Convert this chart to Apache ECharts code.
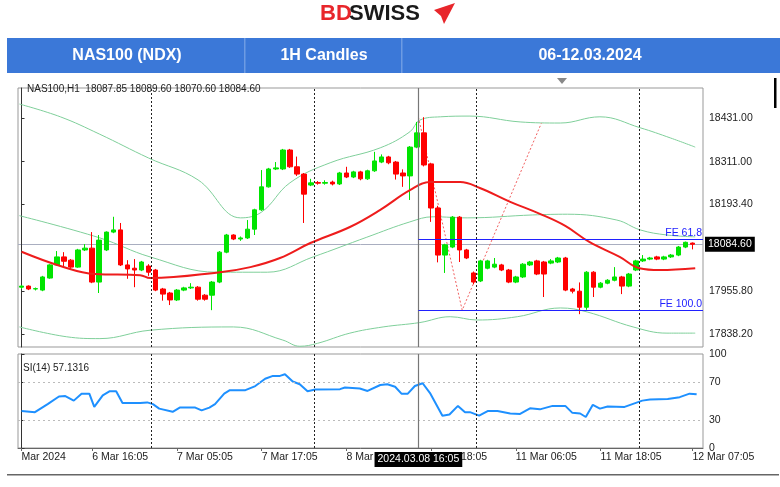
<!DOCTYPE html>
<html>
<head>
<meta charset="utf-8">
<script src="https://cdn.jsdelivr.net/npm/echarts@6/dist/echarts.min.js"></script>
<style>
  html, body { margin: 0; padding: 0; background: #fff; }
  #chart { width: 780px; height: 487px; }
</style>
</head>
<body>
<div id="chart"></div>
<script>
// Velas H1 NAS100: [open, close, low, high]
const velas = [
  [17967, 17970, 17962, 17973], [17970, 17962, 17959, 17972], [17962, 17963, 17958, 17966], [17959, 17995, 17956, 17998],
  [17992, 18028, 17990, 18030], [18028, 18050, 18026, 18066], [18050, 18038, 18025, 18063], [18041, 18022, 18014, 18044],
  [18022, 18069, 18020, 18072], [18069, 18074, 18066, 18085], [18074, 17981, 17978, 18118], [17981, 18096, 17951, 18110],
  [18069, 18118, 18066, 18120], [18118, 18124, 18115, 18160], [18124, 18028, 18025, 18143], [18028, 18017, 17990, 18041],
  [18019, 18014, 17967, 18044], [18014, 18036, 18011, 18039], [18025, 18008, 17998, 18030], [18014, 17959, 17956, 18017],
  [17962, 17948, 17930, 17965], [17951, 17932, 17918, 17954], [17932, 17959, 17929, 17962], [17959, 17965, 17956, 17968],
  [17965, 17967, 17962, 17978], [17967, 17934, 17930, 17970], [17945, 17934, 17930, 17948], [17945, 17981, 17904, 17984],
  [17981, 18063, 17978, 18066], [18063, 18110, 18060, 18113], [18110, 18099, 18096, 18112], [18099, 18102, 18094, 18106],
  [18102, 18126, 18099, 18151], [18126, 18179, 18110, 18182], [18179, 18242, 18176, 18288], [18242, 18291, 18240, 18294],
  [18291, 18294, 18288, 18310], [18291, 18343, 18288, 18346], [18343, 18297, 18294, 18346], [18297, 18277, 18272, 18325],
  [18277, 18222, 18143, 18280], [18247, 18253, 18244, 18264], [18254, 18252, 18248, 18258], [18252, 18254, 18248, 18260],
  [18255, 18250, 18246, 18259], [18250, 18280, 18247, 18283], [18280, 18269, 18266, 18297], [18269, 18283, 18266, 18286],
  [18283, 18264, 18260, 18286], [18264, 18286, 18261, 18289], [18286, 18313, 18283, 18338], [18310, 18324, 18307, 18331],
  [18324, 18308, 18304, 18327], [18310, 18277, 18262, 18313], [18280, 18272, 18242, 18290], [18272, 18351, 18206, 18354],
  [18351, 18390, 18348, 18420], [18390, 18302, 18298, 18433], [18305, 18184, 18146, 18308], [18184, 18055, 18035, 18190],
  [18055, 18083, 18006, 18086], [18077, 18159, 18074, 18162], [18159, 18069, 18036, 18162], [18069, 18047, 18044, 18072],
  [18006, 17981, 17975, 18010], [17984, 18039, 17981, 18042], [18019, 18039, 18016, 18042], [18022, 18030, 18019, 18047],
  [18028, 18014, 18011, 18031], [18014, 17981, 17978, 18017], [17981, 17995, 17978, 17998], [17995, 18030, 17992, 18033],
  [18028, 18036, 18025, 18039], [18039, 18003, 18000, 18042], [18036, 18003, 17940, 18039], [18033, 18039, 18030, 18044],
  [18036, 18047, 18033, 18050], [18047, 17959, 17956, 18050], [17962, 17956, 17950, 17965], [17956, 17912, 17893, 17980],
  [17912, 18008, 17905, 18011], [18008, 17967, 17940, 18011], [17967, 17978, 17964, 17981], [17978, 17986, 17975, 17989],
  [17986, 17995, 17983, 18022], [17995, 17970, 17948, 17998], [17970, 18003, 17967, 18006], [18014, 18039, 18011, 18042],
  [18039, 18044, 18036, 18055], [18044, 18047, 18041, 18050], [18050, 18044, 18041, 18053], [18044, 18050, 18041, 18053],
  [18050, 18055, 18047, 18058], [18055, 18077, 18052, 18080], [18077, 18090, 18074, 18092], [18087.85, 18084.6, 18070.6, 18089.6]
];
const categorias = velas.map(function(v, i) { return i; }).concat([96]);

// Media móvil (roja) [índice, precio]
const mediaMovil = [[0, 18064], [5.5, 18025], [10.4, 18003], [16.8, 18000], [18.2, 17992], [28.1, 18008], [32.4, 18022],
  [36.6, 18047], [40.9, 18088], [46.5, 18132], [50.8, 18179], [55, 18233], [57.9, 18255], [62.1, 18255], [64.9, 18239],
  [69.2, 18201], [73.4, 18168], [77, 18135], [80.4, 18091], [84.7, 18050], [87.5, 18019], [90.4, 18014], [95.4, 18019]];

// Bandas (verdes)
const bandaSup = [[-0.3, 18469], [5.5, 18434], [11, 18387], [18, 18321], [25, 18261], [31, 18157], [34, 18173], [38, 18253],
  [43.7, 18308], [50.8, 18349], [55, 18393], [56.4, 18425], [59.3, 18434], [63.5, 18436], [70.6, 18420], [76.3, 18417],
  [81.9, 18434], [87.6, 18404], [91.9, 18376], [95.4, 18351]];
const bandaMed = [[-0.3, 18163], [11.1, 18102], [18.2, 18050], [27.7, 18008], [34.8, 18008], [41.3, 18050], [48.9, 18104],
  [55, 18146], [58.3, 18160], [63.1, 18157], [72.4, 18165], [77.3, 18167], [84.3, 18151], [87.6, 18124], [91.4, 18110], [95.4, 18105]];
const bandaInf = [[-0.3, 17858], [6.4, 17831], [11.1, 17826], [18.2, 17849], [30, 17858], [37, 17822], [39.4, 17805],
  [41.9, 17813], [46.5, 17841], [51.2, 17858], [56.4, 17870], [60.7, 17886], [64.5, 17877], [70.2, 17886], [76.3, 17910],
  [80.1, 17899], [86.6, 17858], [91.4, 17841], [95.4, 17841]];

// Fibonacci
const fiboPuntos = [[56.2, 18433], [62.4, 17904], [73.6, 18416]];
const fe618 = 18098;
const fe100 = 17904;
const precioActual = 18084.6;

// RSI(14)
const rsi = [[0, 39.3], [1.9, 38.1], [3.7, 46.7], [5.3, 54.8], [6.2, 55.2], [7.4, 50.4], [8.5, 57.8], [9.6, 57.8], [10.3, 43.7],
  [11.5, 55.9], [12.5, 60.4], [13.4, 60.4], [14.3, 47.8], [16.8, 47.8], [17.8, 48.5], [18.6, 46.7], [19.5, 41.9], [21.4, 38.5],
  [22.4, 43], [24.6, 43], [25.5, 40], [26.6, 43], [27.4, 46.7], [28.7, 57.8], [29.5, 61.5], [31.7, 61.5], [33.1, 65.9],
  [34.5, 73.7], [35.6, 76.7], [36.6, 76.7], [37.3, 78.5], [38.4, 70.7], [39.4, 67.8], [40.5, 60.4], [41.6, 62.2], [45.1, 62.6],
  [45.8, 64.4], [47.9, 63.3], [49, 60.7], [50.8, 67], [51.8, 67.8], [52.9, 65.2], [53.8, 57.8], [54.7, 57.8], [55.7, 65.9],
  [56.8, 68.9], [57.9, 57.8], [59.6, 34.4], [60.6, 35.6], [61.8, 44.8], [62.8, 38.1], [63.5, 38.1], [64.8, 34.4], [66, 39.3],
  [67.4, 39.3], [69.2, 36.7], [70.6, 36.3], [72, 42.2], [73.4, 41.1], [75.2, 44.8], [77, 44.8], [78, 37.4], [79.1, 36.7],
  [79.9, 33], [80.9, 45.9], [81.9, 41.9], [83, 44.1], [85.4, 43.7], [87.9, 50.4], [89, 51.5], [91.5, 52.2], [93.2, 54.1],
  [94.6, 57.8], [95.6, 57.1]];

// Etiquetas del eje de tiempo
const ticksIdx = [0, 10, 22, 34, 46, 58, 70, 82, 95];
const ticksTexto = ['Mar 2024', '6 Mar 16:05', '7 Mar 05:05', '7 Mar 17:05', '8 Mar 05:05', '8 Mar 18:05',
  '11 Mar 06:05', '11 Mar 18:05', '12 Mar 07:05'];
const ticksPrecio = [18431, 18311, 18193.4, 17955.8, 17838.2];
const ticksRsi = [0, 30, 70, 100];
const separadores = [18.3, 41.4, 64.4, 87.5];
const cursorIdx = 56.2;

const chart = echarts.init(document.getElementById('chart'), null, { renderer: 'canvas' });

const fuente = 'Liberation Sans, Arial, sans-serif';
const lineasDia = separadores.map(function(x) { return { xAxis: x }; });

const option = {
  animation: false,
  textStyle: { fontFamily: fuente },
  title: [
    { text: 'NAS100,H1  18087.85 18089.60 18070.60 18084.60', left: 22, top: 79,
      textStyle: { fontSize: 10, fontWeight: 'normal', color: '#222' } },
    { text: 'SI(14) 57.1316', left: 18, top: 358,
      textStyle: { fontSize: 10, fontWeight: 'normal', color: '#222' } }
  ],
  graphic: [
    { type: 'rect', shape: { x: 7, y: 38, width: 773, height: 35 }, style: { fill: '#3b78d8' } },
    { type: 'rect', shape: { x: 244, y: 38, width: 1.5, height: 35 }, style: { fill: '#6d9be3' } },
    { type: 'rect', shape: { x: 401, y: 38, width: 1.5, height: 35 }, style: { fill: '#6d9be3' } },
    { type: 'text', x: 127, y: 56, style: { text: 'NAS100 (NDX)', fill: '#fff', font: 'bold 16px ' + fuente, align: 'center', verticalAlign: 'middle' } },
    { type: 'text', x: 324, y: 56, style: { text: '1H Candles', fill: '#fff', font: 'bold 16px ' + fuente, align: 'center', verticalAlign: 'middle' } },
    { type: 'text', x: 590, y: 56, style: { text: '06-12.03.2024', fill: '#fff', font: 'bold 16px ' + fuente, align: 'center', verticalAlign: 'middle' } },
    { type: 'text', x: 320, y: 14, style: { text: 'BD', fill: '#e8262b', font: 'bold 22px ' + fuente, verticalAlign: 'middle' } },
    { type: 'text', x: 349, y: 14, style: { text: 'SWISS', fill: '#1a1a1a', font: 'bold 22px ' + fuente, verticalAlign: 'middle' } },
    { type: 'polygon', shape: { points: [[434, 10], [455, 3], [444, 24], [441, 16]] }, style: { fill: '#e8262b' } },
    { type: 'polygon', shape: { points: [[557, 78], [567, 78], [562, 84]] }, style: { fill: '#888' } },
    { type: 'rect', shape: { x: 774, y: 78, width: 2.5, height: 30 }, style: { fill: '#000' } },
    { type: 'rect', shape: { x: 7, y: 474, width: 772, height: 1.5 }, style: { fill: '#666' } }
  ],
  grid: [
    { left: 18, right: 77, top: 88, height: 259, show: true, borderColor: '#999', borderWidth: 1 },
    { left: 18, right: 77, top: 354, height: 94, show: true, borderColor: '#999', borderWidth: 1 }
  ],
  xAxis: [
    { type: 'category', gridIndex: 0, data: categorias, show: false, boundaryGap: true },
    { type: 'value', gridIndex: 0, min: -0.5, max: 96.5, show: false },
    { type: 'value', gridIndex: 1, min: -0.5, max: 96.5,
      splitLine: { show: false },
      axisLine: { lineStyle: { color: '#666' } },
      axisTick: { customValues: ticksIdx, length: 3 },
      axisLabel: { customValues: ticksIdx, align: 'left', fontSize: 10.5, color: '#222', margin: 4,
        formatter: function(v) { return ticksTexto[ticksIdx.indexOf(v)] || ''; } } }
  ],
  yAxis: [
    { type: 'value', gridIndex: 0, position: 'right', min: 17803, max: 18513, scale: true,
      splitLine: { show: false },
      axisLine: { show: true, lineStyle: { color: '#333' } },
      axisTick: { show: true, customValues: ticksPrecio, length: 3 },
      axisLabel: { customValues: ticksPrecio, fontSize: 10.5, color: '#222', margin: 6,
        formatter: function(v) { return v.toFixed(2); } } },
    { type: 'value', gridIndex: 1, position: 'right', min: 0, max: 100,
      splitLine: { show: false },
      axisLine: { show: true, lineStyle: { color: '#333' } },
      axisTick: { show: true, customValues: ticksRsi, length: 3 },
      axisLabel: { customValues: ticksRsi, fontSize: 10.5, color: '#222', margin: 6 } }
  ],
  series: [
    {
      type: 'line', xAxisIndex: 1, yAxisIndex: 0, data: bandaSup, smooth: 0.4, symbol: 'none',
      lineStyle: { color: '#7fcf9a', width: 1 }, z: 1,
      markLine: {
        silent: true, symbol: 'none', label: { show: false },
        lineStyle: { color: '#222', type: [2, 2], width: 1 },
        data: lineasDia.concat([{ xAxis: cursorIdx, lineStyle: { color: '#777', type: 'solid', width: 1.2 } }])
      }
    },
    { type: 'line', xAxisIndex: 1, yAxisIndex: 0, data: bandaMed, smooth: 0.4, symbol: 'none', lineStyle: { color: '#7fcf9a', width: 1 }, z: 1 },
    { type: 'line', xAxisIndex: 1, yAxisIndex: 0, data: bandaInf, smooth: 0.4, symbol: 'none', lineStyle: { color: '#7fcf9a', width: 1 }, z: 1 },
    {
      type: 'line', xAxisIndex: 1, yAxisIndex: 0, data: fiboPuntos, symbol: 'none',
      lineStyle: { color: '#f06060', type: [2, 2], width: 1 }, z: 2,
      markLine: {
        silent: true, symbol: 'none',
        lineStyle: { color: '#2020ff', type: 'solid', width: 1 },
        label: { position: 'insideEndTop', color: '#2020ff', fontSize: 10.5, distance: 1 },
        data: [
          [{ coord: [56.2, fe618], name: 'FE 61.8' }, { coord: [96.5, fe618] }],
          [{ coord: [56.2, fe100], name: 'FE 100.0' }, { coord: [96.5, fe100] }]
        ]
      }
    },
    {
      type: 'candlestick', xAxisIndex: 0, yAxisIndex: 0, data: velas, barWidth: 5, z: 3,
      itemStyle: { color: '#00e400', color0: '#ff0000', borderColor: '#00e400', borderColor0: '#ff0000', borderWidth: 1 },
      markLine: {
        silent: true, symbol: 'none', z: 0,
        lineStyle: { color: '#a9aec0', type: 'solid', width: 1 },
        label: { position: 'end', formatter: function() { return precioActual.toFixed(2); },
          backgroundColor: '#000', color: '#fff', fontSize: 10.5, padding: [2, 3], distance: 2 },
        data: [{ yAxis: precioActual }]
      }
    },
    { type: 'line', xAxisIndex: 1, yAxisIndex: 0, data: mediaMovil, smooth: 0.4, symbol: 'none', lineStyle: { color: '#ee1c1c', width: 2 }, z: 4 },
    {
      type: 'line', xAxisIndex: 2, yAxisIndex: 1, data: rsi, symbol: 'none',
      lineStyle: { color: '#1e90ff', width: 2 },
      markLine: {
        silent: true, symbol: 'none', label: { show: false },
        lineStyle: { color: '#222', type: [2, 2], width: 1 },
        data: lineasDia.concat([
          { yAxis: 70, lineStyle: { color: '#bbb', type: [2, 3] } },
          { yAxis: 30, lineStyle: { color: '#bbb', type: [2, 3] } },
          { xAxis: cursorIdx, lineStyle: { color: '#777', type: 'solid', width: 1.2 },
            label: { show: true, position: 'start', formatter: '2024.03.08 16:05', backgroundColor: '#000',
              color: '#fff', fontSize: 10.5, padding: [2, 3], distance: 4 } }
        ])
      }
    }
  ]
};

chart.setOption(option);
</script>
</body>
</html>
